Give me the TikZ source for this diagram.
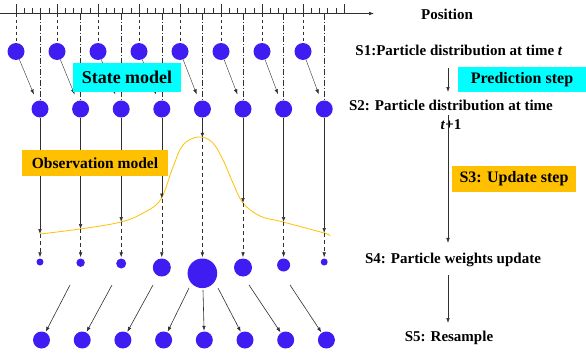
\documentclass[tikz,border=0pt]{standalone}
\usepackage{fontspec}
\setmainfont{Liberation Serif}
\usetikzlibrary{arrows.meta,positioning,calc}
\definecolor{particle}{HTML}{3F1CF2}
\definecolor{aqua}{HTML}{00FFFF}
\definecolor{amber}{HTML}{FFC000}
\definecolor{ink}{HTML}{303030}
\tikzset{dot/.style={circle,fill=particle,inner sep=0pt,minimum size=17pt},
  tag/.style={fill=#1,inner sep=0pt,align=center,font=\fontsize{16}{18}\selectfont\bfseries},
  steplabel/.style={font=\fontsize{15}{19}\selectfont\bfseries,align=center,inner sep=0pt},
  arrow/.style={-{Latex[length=5pt,width=3.6pt]},draw=ink,line width=0.6pt},
  dashdot/.style={draw=ink,line width=0.6pt,dash pattern=on 6pt off 2pt on 1pt off 2pt}}

\begin{document}
\begin{tikzpicture}[x=1pt,y=-1pt]
\useasboundingbox (0,0) rectangle (586,356);
% position axis
\coordinate (ax) at (0,13.5);
\coordinate (axend) at (374,13.5);
\draw[arrow] (ax)--(axend);
\foreach \k in {0,...,39} \draw[ink,line width=0.6pt] ({16+8.2*\k},13.5)--++(0,-6);
\foreach \k in {0,...,8} \draw[ink,line width=0.6pt] ({16+41*\k},13.5)--++(0,-10);
% particles
\foreach \i in {1,...,8}{
  \node[dot] (a\i) at ({16+41*(\i-1)},51.5) {};
  \node[dot] (b\i) at ({40+40.6*(\i-1)},109) {};
  \node[dot] (e\i) at ({41.5+40.7*(\i-1)},340) {};
}
\foreach \i/\r in {1/3.5,2/4.2,3/5,4/9,5/14.8,6/9,7/6.5,8/3.5}
  \node[dot,minimum size={2*\r*1pt}] (w\i) at ({40+40.6*(\i-1)},{258.5+\r}) {};
% observation likelihood
\draw[amber,line width=0.8pt] plot[smooth,tension=0.6] coordinates {(40,234) (80,229)
  (121,222) (145,212) (161,199) (173,167) (183,145) (198,137) (212,142) (223,160)
  (233,183) (243,203) (260,216) (283,222) (324,233) (330,236)};
\foreach \i/\y in {1/234,2/229,3/222,4/198.5,5/137.8,6/203,7/222,8/233}
  \coordinate (c\i) at ({40+40.6*(\i-1)},\y);
\foreach \i/\x/\y in {1/70/285,2/112/285,3/153/285,4/189/288,5/203/290,6/218/288,7/249/285,8/290/285}
  \coordinate (s\i) at (\x,\y);
% connectors
\foreach \i in {1,...,8}{
  \draw[ink,line width=0.6pt,dash pattern=on 3pt off 3pt] (a\i |- ax)--(a\i);
  \draw[dashdot] (b\i |- ax)--(b\i);
  \draw[arrow,line width=0.4pt,shorten >=7pt] (a\i)--(b\i);
  \draw[arrow] (b\i)--(c\i);
  \draw[arrow,dash pattern=on 4pt off 3pt,shorten >=1pt] (c\i)--(w\i);
  \draw[arrow,shorten >=0.5pt] (s\i)--(e\i);
}
% model boxes
\node[tag=aqua,minimum width=108pt,minimum height=29pt,font=\fontsize{18}{20}\selectfont\bfseries] (state) at (127,77.5) {State model};
\node[tag=amber,minimum width=146pt,minimum height=26pt,font=\fontsize{15.5}{17}\selectfont\bfseries] (obs) at (95,163) {Observation model};
% step column
\node[steplabel] (pos) at (447,14.7) {Position};
\node[steplabel] (s1) at (459,50.4) {S1:Particle distribution at time \textit{t}};
\node[steplabel] (s2) at (451,115) {S2: Particle distribution at time\\\textit{t}+1};
\node[steplabel] (s4) at (453,260) {S4: Particle weights update};
\node[steplabel] (s5) at (449,338) {S5: Resample};
\coordinate (rail) at (448,0);
\draw[arrow] ($(s1.south -| rail)+(0,12)$)--($(s2.north -| rail)+(0,-8)$);
\draw[arrow] (s2.center -| rail)--($(s4.north -| rail)+(0,-10)$);
\draw[arrow] ($(s4.south -| rail)+(0,8)$)--($(s5.north -| rail)+(0,-8)$);
\node[tag=aqua,minimum width=128pt,minimum height=25pt] (pred) at (522,79.5) {Prediction step};
\node[tag=amber,minimum width=124pt,minimum height=26pt] (upd) at (514,179) {S3: Update step};
\end{tikzpicture}
\end{document}
